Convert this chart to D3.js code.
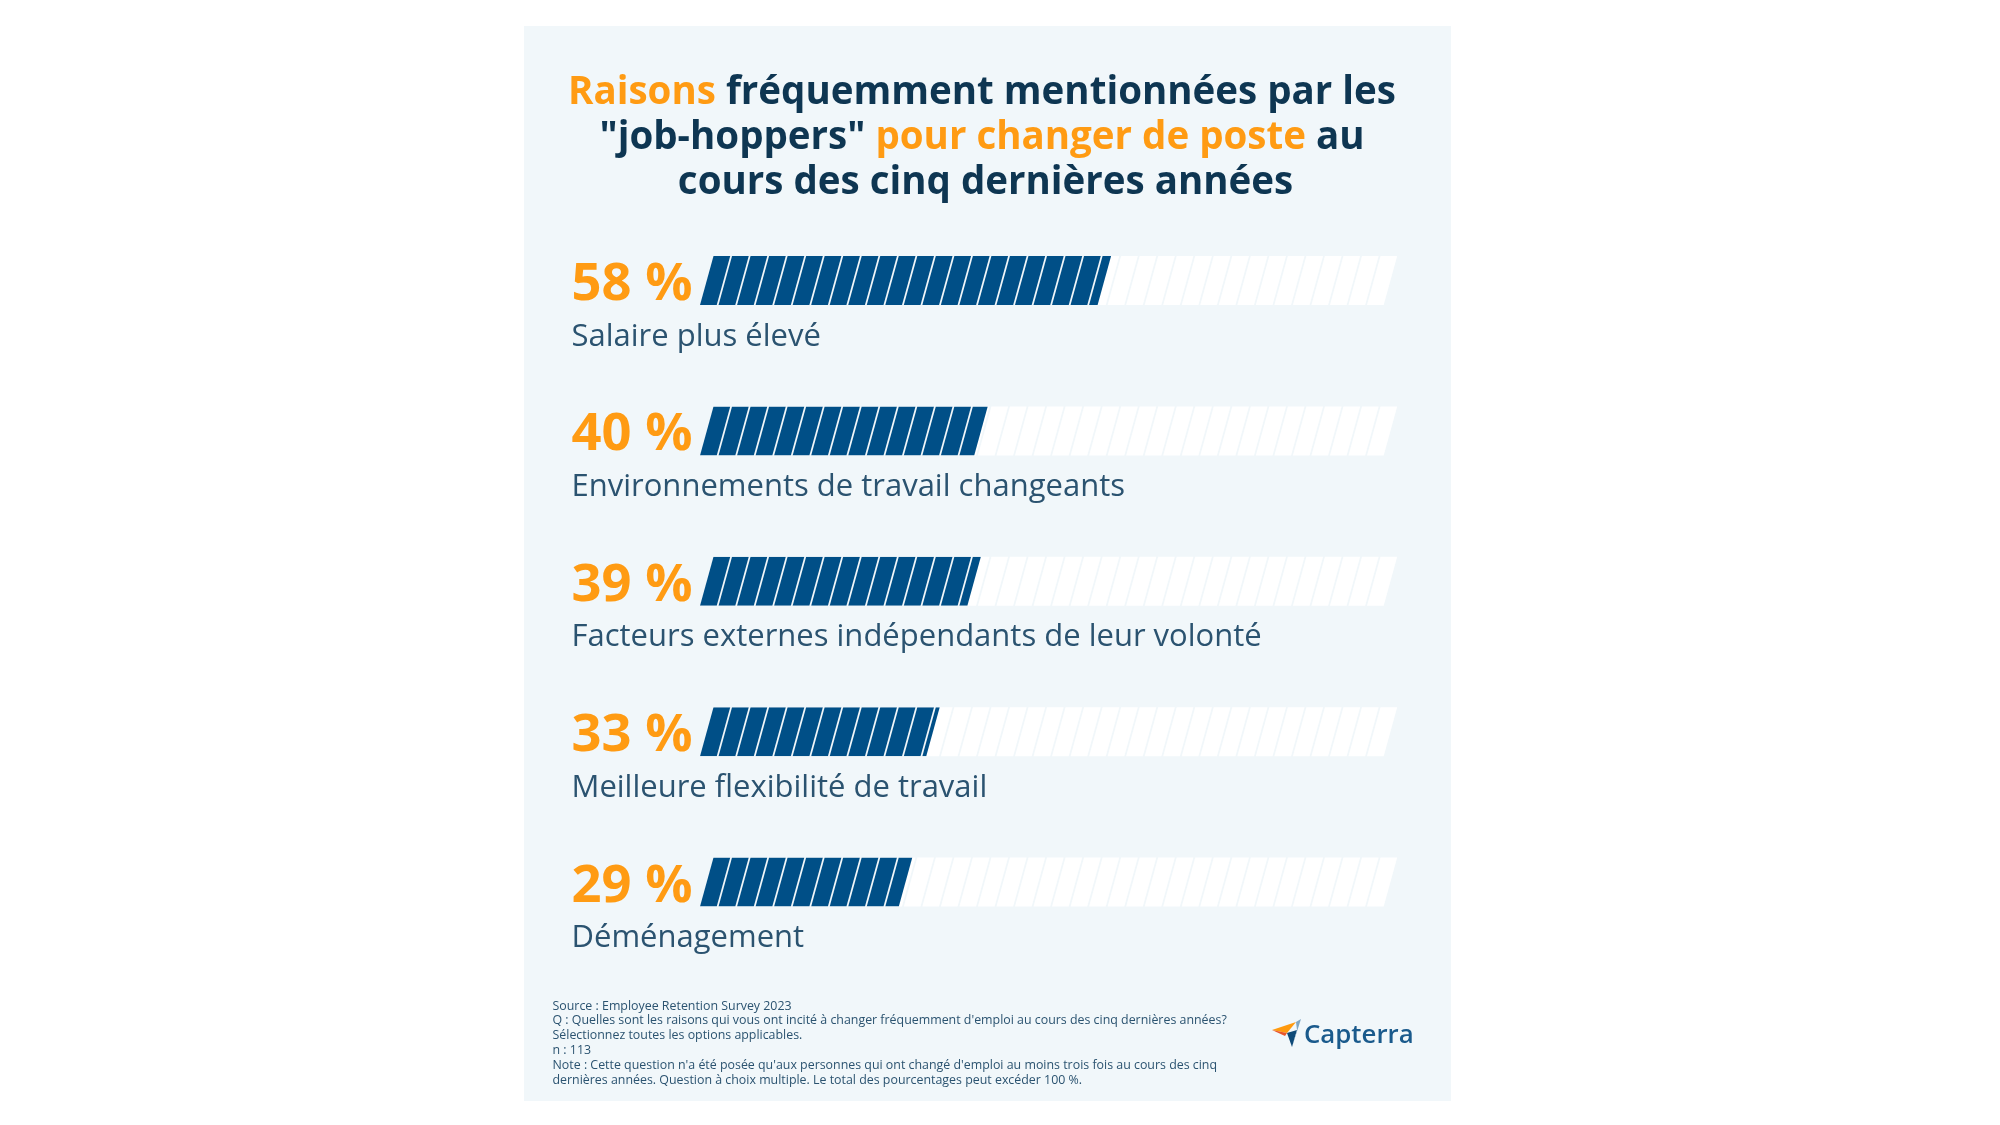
<!DOCTYPE html>
<html>
<head>
<meta charset="utf-8">
<script src="https://cdn.jsdelivr.net/npm/d3@7"></script>
<style>
  html, body { margin: 0; background: #fff; }
  svg { display: block; filter: blur(0.75px); font-family: "Open Sans", sans-serif; }
</style>
</head>
<body>
<div id="chart"></div>
<script>
// the data
const categories = ["Salaire plus élevé", "Environnements de travail changeants", "Facteurs externes indépendants de leur volonté", "Meilleure flexibilité de travail", "Déménagement"];
const values = [58, 40, 39, 33, 29];
const valueLabels = ["58 %", "40 %", "39 %", "33 %", "29 %"];
// [text, highlighted]
const titleLines = [
    [["Raisons", true], ["fréquemment mentionnées par les", false]],
    [["\"job-hoppers\"", false], ["pour changer de poste", true], ["au", false]],
    [["cours des cinq dernières années", false]]
];
const footnotes = [
    "Source : Employee Retention Survey 2023",
    "Q : Quelles sont les raisons qui vous ont incité à changer fréquemment d'emploi au cours des cinq dernières années?",
    "Sélectionnez toutes les options applicables.",
    "n : 113",
    "Note : Cette question n'a été posée qu'aux personnes qui ont changé d'emploi au moins trois fois au cours des cinq",
    "dernières années. Question à choix multiple. Le total des pourcentages peut excéder 100 %."
];

const orange = "#ff9b13", navy = "#0e3652", blue = "#004f87", panelColor = "#f1f7fa", labelColor = "#2b5370";
const segments = 37, barHeight = 49, slant = 13.5, segGap = 1.8;

const svg = d3.select("#chart").append("svg")
    .attr("width", 2000)
    .attr("height", 1125);

svg.append("rect")
    .attr("x", 524).attr("y", 26)
    .attr("width", 927).attr("height", 1075)
    .attr("fill", panelColor);

// title, each coloured run is its own text so it can be measured and centred
const titleSize = 38.5, wordGap = 10;
titleLines.forEach(function(line, i) {
    const parts = line.map(function(part) {
        return svg.append("text")
            .attr("y", 104 + i * 45)
            .attr("font-size", titleSize)
            .attr("font-weight", 700)
            .attr("fill", part[1] ? orange : navy)
            .text(part[0]);
    });
    const widths = parts.map(p => p.node().getComputedTextLength());
    const total = d3.sum(widths) + wordGap * (parts.length - 1);
    let cursor = (i === 2 ? 985.5 : 982) - total / 2;
    parts.forEach(function(p, j) {
        p.attr("x", cursor);
        cursor += widths[j] + wordGap;
    });
});

// scales
const x = d3.scaleLinear().domain([0, 100]).range([700, 1385.5]);
const y = d3.scalePoint().domain(categories).range([256, 857.5]);
const segWidth = (x(100) - x(0)) / segments;

function slanted(x0, x1, top) {
    return `M${x0},${top + barHeight}L${x0 + slant},${top}L${x1 + slant},${top}L${x1},${top + barHeight}Z`;
}

const rows = svg.selectAll(".row")
    .data(categories)
    .join("g")
    .attr("class", "row");

rows.each(function(cat, i) {
    const g = d3.select(this);
    const top = y(cat);

    g.append("clipPath")
        .attr("id", "clip" + i)
        .append("path")
        .attr("d", slanted(x(0) - 1, x(values[i]), top));

    // empty track
    g.append("g").selectAll("path")
        .data(d3.range(segments))
        .join("path")
        .attr("fill", "#fff")
        .attr("d", d => slanted(x(0) + d * segWidth, x(0) + (d + 1) * segWidth - segGap, top));

    // filled part
    g.append("g")
        .attr("clip-path", `url(#clip${i})`)
        .selectAll("path")
        .data(d3.range(segments))
        .join("path")
        .attr("fill", blue)
        .attr("d", d => slanted(x(0) + d * segWidth, x(0) + (d + 1) * segWidth - segGap, top));

    g.append("text")
        .attr("x", 571.5)
        .attr("y", top + 44)
        .attr("font-size", 52.5)
        .attr("font-weight", 700)
        .attr("fill", orange)
        .text(valueLabels[i]);

    g.append("text")
        .attr("x", 571.5)
        .attr("y", top + 89.5)
        .attr("font-size", 31)
        .attr("fill", labelColor)
        .text(cat);
});

// footnotes
svg.append("g").selectAll("text")
    .data(footnotes)
    .join("text")
    .attr("x", 552.5)
    .attr("y", (d, i) => 1009.5 + i * 14.9)
    .attr("font-size", 12.4)
    .attr("fill", labelColor)
    .text(d => d);

// logo
const logo = svg.append("g");
logo.append("path").attr("d", "M1272,1030L1296,1022L1287,1033Z").attr("fill", "#ff9a0f");
logo.append("path").attr("d", "M1272,1030L1287,1033L1285,1036Z").attr("fill", "#e8552a");
logo.append("path").attr("d", "M1287,1033L1297,1030L1292,1047Z").attr("fill", "#0e4a78");
logo.append("path").attr("d", "M1296,1022L1301,1019L1292,1047L1297,1030Z").attr("fill", "#7fa6c4");
logo.append("text")
    .attr("x", 1304)
    .attr("y", 1043)
    .attr("font-size", 25.8)
    .attr("font-weight", 600)
    .attr("fill", "#1a5a8c")
    .text("Capterra");
</script>
</body>
</html>
